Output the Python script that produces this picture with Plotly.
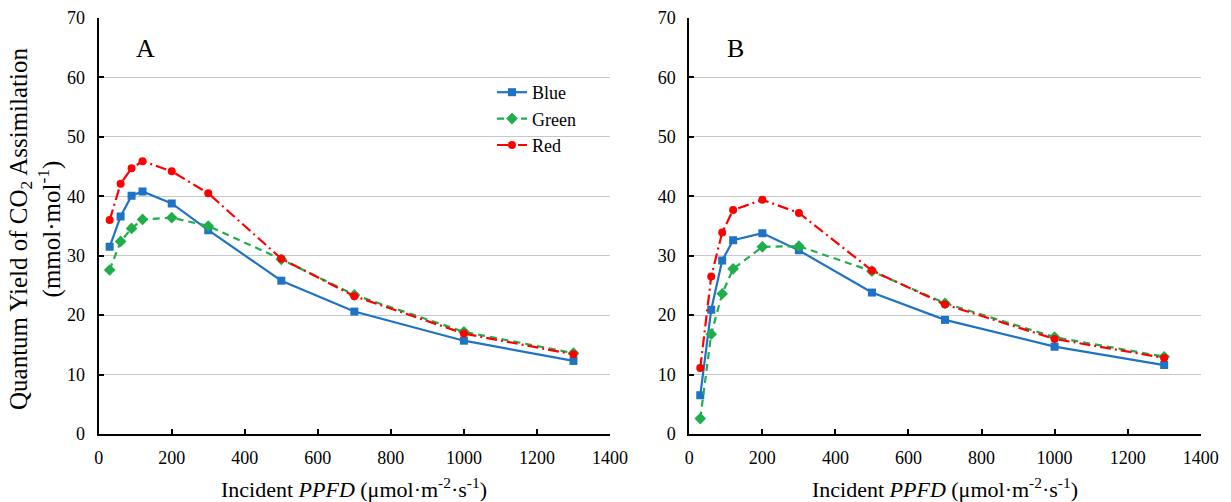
import plotly.graph_objects as go

ppfd = [30, 60, 90, 120, 200, 300, 500, 700, 1000, 1300]

# Panel A
a_blue = [31.5, 36.6, 40.1, 40.8, 38.8, 34.3, 25.8, 20.6, 15.7, 12.3]
a_green = [27.6, 32.4, 34.6, 36.1, 36.4, 35.0, 29.4, 23.4, 17.2, 13.6]
a_red = [36.0, 42.1, 44.7, 45.9, 44.2, 40.5, 29.5, 23.2, 16.9, 13.4]

# Panel B
b_blue = [6.5, 20.9, 29.2, 32.6, 33.8, 30.9, 23.8, 19.2, 14.7, 11.6]
b_green = [2.6, 16.8, 23.6, 27.8, 31.5, 31.6, 27.4, 22.0, 16.3, 13.0]
b_red = [11.1, 26.5, 33.9, 37.7, 39.4, 37.2, 27.5, 21.8, 16.0, 12.8]

series_names = ["Blue", "Green", "Red"]
colors = ["#1F73C4", "#1FAE4B", "#FF0000"]
symbols = ["square", "diamond", "circle"]
dashes = ["solid", "7px,5px", "11px,4px,2px,4px"]

FONT = "Times New Roman, Liberation Serif, serif"

fig = go.Figure()

panels = [("x", "y", [a_blue, a_green, a_red], True),
          ("x2", "y2", [b_blue, b_green, b_red], False)]
for xa, ya, data, show in panels:
    for name, vals, c, s, d in zip(series_names, data, colors, symbols, dashes):
        fig.add_trace(go.Scatter(
            x=ppfd, y=vals, name=name, xaxis=xa, yaxis=ya,
            mode="lines+markers", showlegend=show,
            line=dict(color=c, width=2.2, dash=d),
            marker=dict(symbol=s, size=8 if s != "diamond" else 9, color=c),
        ))

W, H = 1231, 502
axA = (98.7 / W, 610 / W)
axB = (689.3 / W, 1200.7 / W)
ydom = ((H - 434) / H, (H - 18) / H)

xcommon = dict(range=[0, 1400], dtick=200, tick0=0, showgrid=False,
               showline=True, linecolor="black", linewidth=2,
               ticks="inside", ticklen=5, tickwidth=1.5, tickcolor="black",
               tickfont=dict(family=FONT, size=18, color="black"),
               ticklabelstandoff=6, zeroline=False, automargin=False, fixedrange=True)
ycommon = dict(range=[0, 70], dtick=10, tick0=0, showgrid=True,
               gridcolor="#C8C8C8", gridwidth=1,
               showline=True, linecolor="black", linewidth=2,
               ticks="inside", ticklen=5, tickwidth=1.5, tickcolor="black",
               tickfont=dict(family=FONT, size=18, color="black"),
               ticklabelstandoff=8, zeroline=False, automargin=False, fixedrange=True)

fig.update_layout(
    width=W, height=H,
    margin=dict(l=0, r=0, t=0, b=0),
    paper_bgcolor="white", plot_bgcolor="white",
    font=dict(family=FONT, color="black"),
    xaxis=dict(domain=axA, anchor="y", **xcommon),
    yaxis=dict(domain=ydom, anchor="x", **ycommon),
    xaxis2=dict(domain=axB, anchor="y2", **xcommon),
    yaxis2=dict(domain=ydom, anchor="x2", **ycommon),
    legend=dict(x=492 / W, y=1 - 74 / H, xanchor="left", yanchor="top",
                bgcolor="rgba(255,255,255,0)", font=dict(family=FONT, size=18),
                itemwidth=30, tracegroupgap=0),
    showlegend=True,
)

xtitle = "Incident <i>PPFD</i> (μmol·m<sup>-2</sup>·s<sup>-1</sup>)"
ann = [
    dict(text="A", x=145 / W, y=1 - 48 / H),
    dict(text="B", x=735 / W, y=1 - 48 / H),
]
for a in ann:
    fig.add_annotation(xref="paper", yref="paper", showarrow=False,
                       xanchor="center", yanchor="middle",
                       font=dict(family=FONT, size=26, color="black"), **a)
for cx in [(98.7 + 610) / 2 / W, (689.3 + 1200.7) / 2 / W]:
    fig.add_annotation(xref="paper", yref="paper", showarrow=False,
                       x=cx, y=1 - 488 / H, xanchor="center", yanchor="middle",
                       text=xtitle, font=dict(family=FONT, size=22, color="black"))
fig.add_annotation(xref="paper", yref="paper", showarrow=False,
                   x=35 / W, y=1 - 229 / H, xanchor="center", yanchor="middle",
                   textangle=-90,
                   text="Quantum Yield of CO<sub>2</sub> Assimilation<br>(mmol·mol<sup>-1</sup>)",
                   font=dict(family=FONT, size=25, color="black"))

fig.write_html("out.html")
